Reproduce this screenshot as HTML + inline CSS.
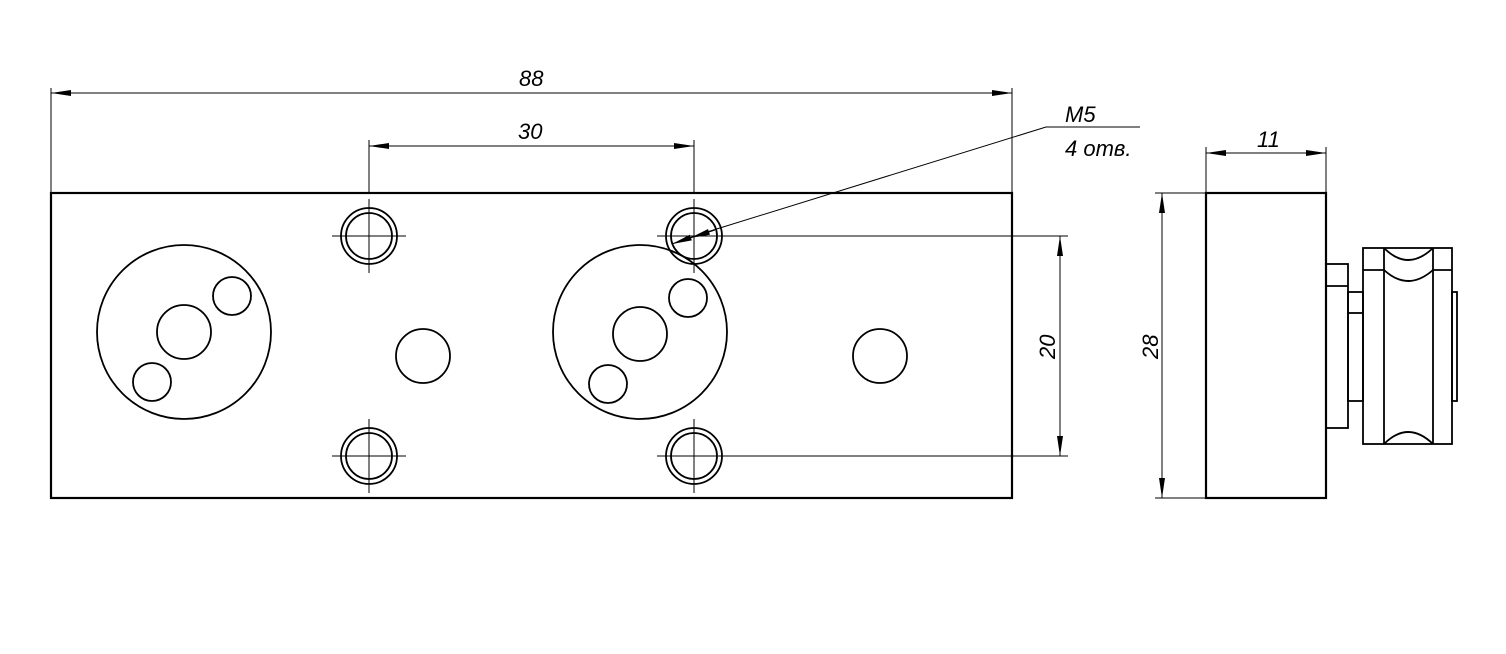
<!DOCTYPE html>
<html><head><style>body{margin:0;background:#fff}svg{display:block}
text{font-family:"Liberation Sans",sans-serif;font-style:italic;font-size:22px;fill:#000}</style></head>
<body>
<svg width="1506" height="654" viewBox="0 0 1506 654">
<defs>
<marker id="a" viewBox="0 0 20 6" refX="20" refY="3" markerWidth="20" markerHeight="6" orient="auto-start-reverse" markerUnits="userSpaceOnUse"><path d="M0,0 L20,3 L0,6 Z" fill="#000"/></marker>
</defs>
<g fill="none" stroke="#000" stroke-width="1">
<line x1="51" y1="88" x2="51" y2="193"/><line x1="1012" y1="88" x2="1012" y2="193"/>
<line x1="51" y1="93" x2="1012" y2="93" marker-start="url(#a)" marker-end="url(#a)"/>
<line x1="369" y1="140" x2="369" y2="193"/><line x1="694" y1="140" x2="694" y2="193"/>
<line x1="369" y1="146" x2="694" y2="146" marker-start="url(#a)" marker-end="url(#a)"/>
<line x1="694" y1="236" x2="1068" y2="236"/><line x1="694" y1="456" x2="1068" y2="456"/>
<line x1="1060" y1="236" x2="1060" y2="456" marker-start="url(#a)" marker-end="url(#a)"/>
<polyline points="1140,127 1046,127 707,232"/>
<line x1="707" y1="232" x2="672" y2="244" marker-end="url(#a)"/>
<line x1="690" y1="238" x2="715" y2="230" marker-start="url(#a)"/>
<line x1="1155" y1="193" x2="1206" y2="193"/><line x1="1155" y1="498" x2="1206" y2="498"/>
<line x1="1162" y1="193" x2="1162" y2="498" marker-start="url(#a)" marker-end="url(#a)"/>
<line x1="1206" y1="147" x2="1206" y2="193"/><line x1="1326" y1="147" x2="1326" y2="193"/>
<line x1="1206" y1="153" x2="1326" y2="153" marker-start="url(#a)" marker-end="url(#a)"/>
<path d="M332,236h74M369,199v74M657,236h74M694,199v74M332,456h74M369,419v74M657,456h74M694,419v74"/>
</g>
<g fill="none" stroke="#000" stroke-width="1.8">
<rect x="51" y="193" width="961" height="305" stroke-width="2.2"/>
<circle cx="369" cy="236" r="28"/><circle cx="369" cy="236" r="23"/>
<circle cx="694" cy="236" r="28"/><circle cx="694" cy="236" r="23"/>
<circle cx="369" cy="456" r="28"/><circle cx="369" cy="456" r="23"/>
<circle cx="694" cy="456" r="28"/><circle cx="694" cy="456" r="23"/>
<circle cx="184" cy="332" r="87"/><circle cx="184" cy="332" r="27"/>
<circle cx="232" cy="296" r="19"/><circle cx="152" cy="382" r="19"/>
<circle cx="640" cy="332" r="87"/><circle cx="640" cy="334" r="27"/>
<circle cx="688" cy="298" r="19"/><circle cx="608" cy="384" r="19"/>
<circle cx="423" cy="356" r="27"/><circle cx="880" cy="356" r="27"/>
<rect x="1206" y="193" width="120" height="305" stroke-width="2.2"/>
<rect x="1326" y="264" width="22" height="164"/><line x1="1326" y1="286" x2="1348" y2="286"/>
<rect x="1348" y="292" width="15" height="109"/><line x1="1348" y1="313" x2="1363" y2="313"/>
<rect x="1363" y="248" width="89" height="196"/>
<line x1="1384" y1="248" x2="1384" y2="444"/><line x1="1433" y1="248" x2="1433" y2="444"/>
<line x1="1363" y1="270" x2="1384" y2="270"/><line x1="1433" y1="270" x2="1452" y2="270"/>
<path d="M1384,248 Q1408,272 1433,248"/><path d="M1384,270 Q1408,292 1433,270"/>
<path d="M1384,444 Q1408,420 1433,444"/>
<rect x="1452" y="292" width="5" height="109"/>
</g>
<text x="519" y="86">88</text>
<text x="518" y="139">30</text>
<text x="1065" y="122">M5</text>
<text x="1065" y="156">4 отв.</text>
<text x="1257" y="147">11</text>
<text transform="translate(1055,359) rotate(-90)">20</text>
<text transform="translate(1158,359) rotate(-90)">28</text>
</svg>
</body></html>
